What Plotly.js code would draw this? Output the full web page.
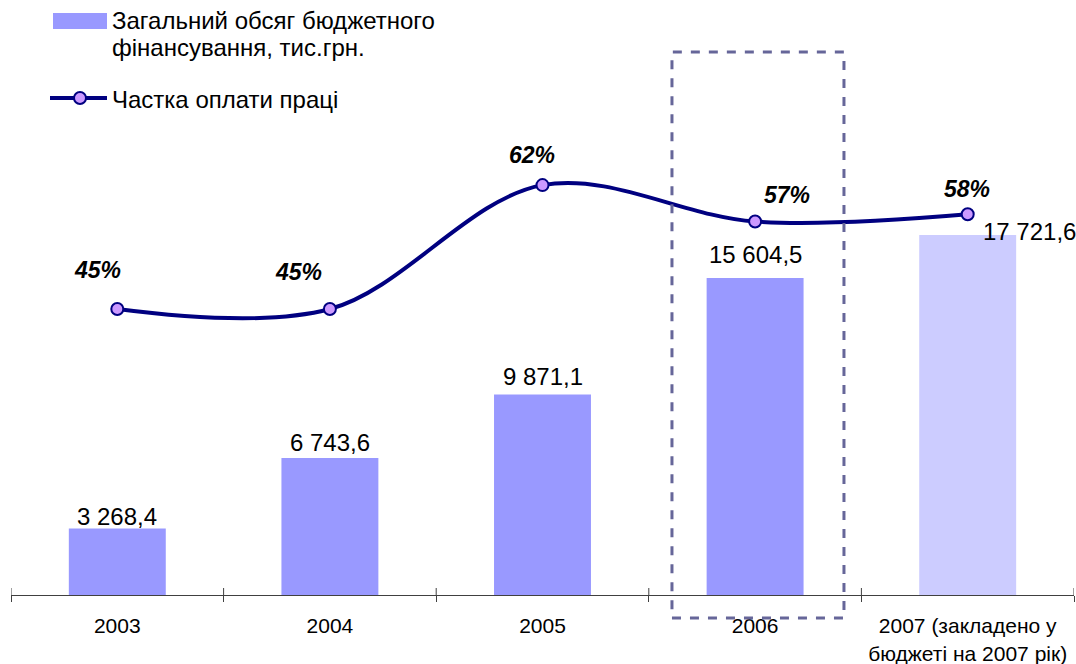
<!DOCTYPE html>
<html>
<head>
<meta charset="utf-8">
<script src="https://cdn.plot.ly/plotly-3.0.1.min.js"></script>
<style>html,body{margin:0;padding:0;background:#fff;}#chart{width:1076px;height:664px;}</style>
</head>
<body>
<div id="chart"></div>
<script>
// ---- data ----
const categories = ["2003", "2004", "2005", "2006", "2007 (закладено у<br>бюджеті на 2007 рік)"];
const budgetValues = [3268.4, 6743.6, 9871.1, 15604.5, 17721.6];
const budgetLabels = ["3 268,4", "6 743,6", "9 871,1", "15 604,5", "17 721,6"];
const wageShare = [0.45, 0.45, 0.62, 0.57, 0.58];
const wageLabels = ["45%", "45%", "62%", "57%", "58%"];
const legendLines1 = ["Загальний обсяг бюджетного", "фінансування, тис.грн."];
const legendLines2 = ["Частка оплати праці"];

// ---- styles / label offsets ----
const barColors = ["#9999FF", "#9999FF", "#9999FF", "#9999FF", "#CCCCFF"];
const budgetLabelShiftX = [0, 0, 0, 0, 62];
const budgetLabelShiftY = [12, 16, 18, 24, 4];
const shareLabelShiftX = [-20, -31, -11, 32, -1];
const shareLabelShiftY = [39, 37, 30, 27, 25];
const FONT = "Arial, 'Liberation Sans', sans-serif";

const traces = [
  {
    type: "bar", x: categories, y: budgetValues, name: legendLines1.join(" "),
    marker: {color: barColors}, width: 0.456, showlegend: false, hoverinfo: "skip"
  },
  {
    type: "scatter", mode: "lines+markers", x: categories, y: wageShare, yaxis: "y2",
    name: legendLines2[0], showlegend: false, hoverinfo: "skip",
    line: {color: "#000080", width: 4, shape: "spline", smoothing: 1},
    marker: {symbol: "circle", size: 12, color: "#CC99FF", line: {color: "#000080", width: 2}}
  }
];

const annotations = [];
categories.forEach((c, i) => {
  annotations.push({
    x: i, y: budgetValues[i], xref: "x", yref: "y", text: budgetLabels[i], showarrow: false,
    xanchor: "center", yanchor: "middle", xshift: budgetLabelShiftX[i], yshift: budgetLabelShiftY[i],
    font: {family: FONT, size: 24, color: "#000"}
  });
  annotations.push({
    x: i, y: wageShare[i], xref: "x", yref: "y2", text: "<b><i>" + wageLabels[i] + "</i></b>", showarrow: false,
    xanchor: "center", yanchor: "middle", xshift: shareLabelShiftX[i], yshift: shareLabelShiftY[i],
    font: {family: FONT, size: 23, color: "#000"}
  });
});

// legend (drawn manually)
const PW = 1063, PH = 585, ML = 11, PB = 595;
const px = v => (v - ML) / PW;
const py = v => (PB - v) / PH;
const legendTextY = [20, 47, 99];
[...legendLines1, ...legendLines2].forEach((t, k) => {
  annotations.push({
    x: px(110), y: py(legendTextY[k]), xref: "paper", yref: "paper", text: t, showarrow: false,
    xanchor: "left", yanchor: "middle", align: "left", font: {family: FONT, size: 24, color: "#000"}
  });
});

const shapes = [
  // legend swatches
  {type: "rect", xref: "paper", yref: "paper", x0: px(53), x1: px(107), y0: py(13), y1: py(29),
   fillcolor: "#9999FF", line: {width: 0}},
  {type: "line", xref: "paper", yref: "paper", x0: px(50), x1: px(107), y0: py(98), y1: py(98),
   line: {color: "#000080", width: 4}},
  {type: "circle", xref: "paper", yref: "paper", xsizemode: "pixel", ysizemode: "pixel",
   xanchor: px(80), yanchor: py(98), x0: -6, x1: 6, y0: -6, y1: 6,
   fillcolor: "#CC99FF", line: {color: "#000080", width: 2}},
  // highlight box around 2006
  {type: "rect", xref: "x", yref: "paper", x0: 2.609, x1: 3.418, y0: -0.0393, y1: 0.928,
   fillcolor: "rgba(0,0,0,0)", line: {color: "#666699", width: 3, dash: "dash"}, layer: "above"}
];
// upper halves of boundary ticks
for (let i = 0; i <= categories.length; i++) {
  shapes.push({type: "line", xref: "x", yref: "paper", x0: i - 0.5, x1: i - 0.5, y0: 0, y1: 7 / PH,
    line: {color: "#404040", width: 1}});
}

const layout = {
  width: 1076, height: 664,
  margin: {l: 11, r: 2, t: 10, b: 69},
  paper_bgcolor: "#fff", plot_bgcolor: "#fff",
  showlegend: false,
  xaxis: {
    type: "category", range: [-0.5, 4.5], showline: true, linecolor: "#404040", linewidth: 1,
    ticks: "outside", ticklen: 6, tickcolor: "#404040", tickwidth: 1, tickson: "boundaries",
    showgrid: false, zeroline: false, fixedrange: true,
    tickfont: {family: FONT, size: 21, color: "#000"}, ticklabelstandoff: 12
  },
  yaxis: {range: [0, 28803], visible: false, showgrid: false, zeroline: false, fixedrange: true},
  yaxis2: {range: [0.0577, 0.8602], overlaying: "y", visible: false, showgrid: false, zeroline: false, fixedrange: true},
  annotations: annotations,
  shapes: shapes,
  font: {family: FONT}
};

Plotly.newPlot("chart", traces, layout, {displayModeBar: false, staticPlot: true});
</script>
</body>
</html>
